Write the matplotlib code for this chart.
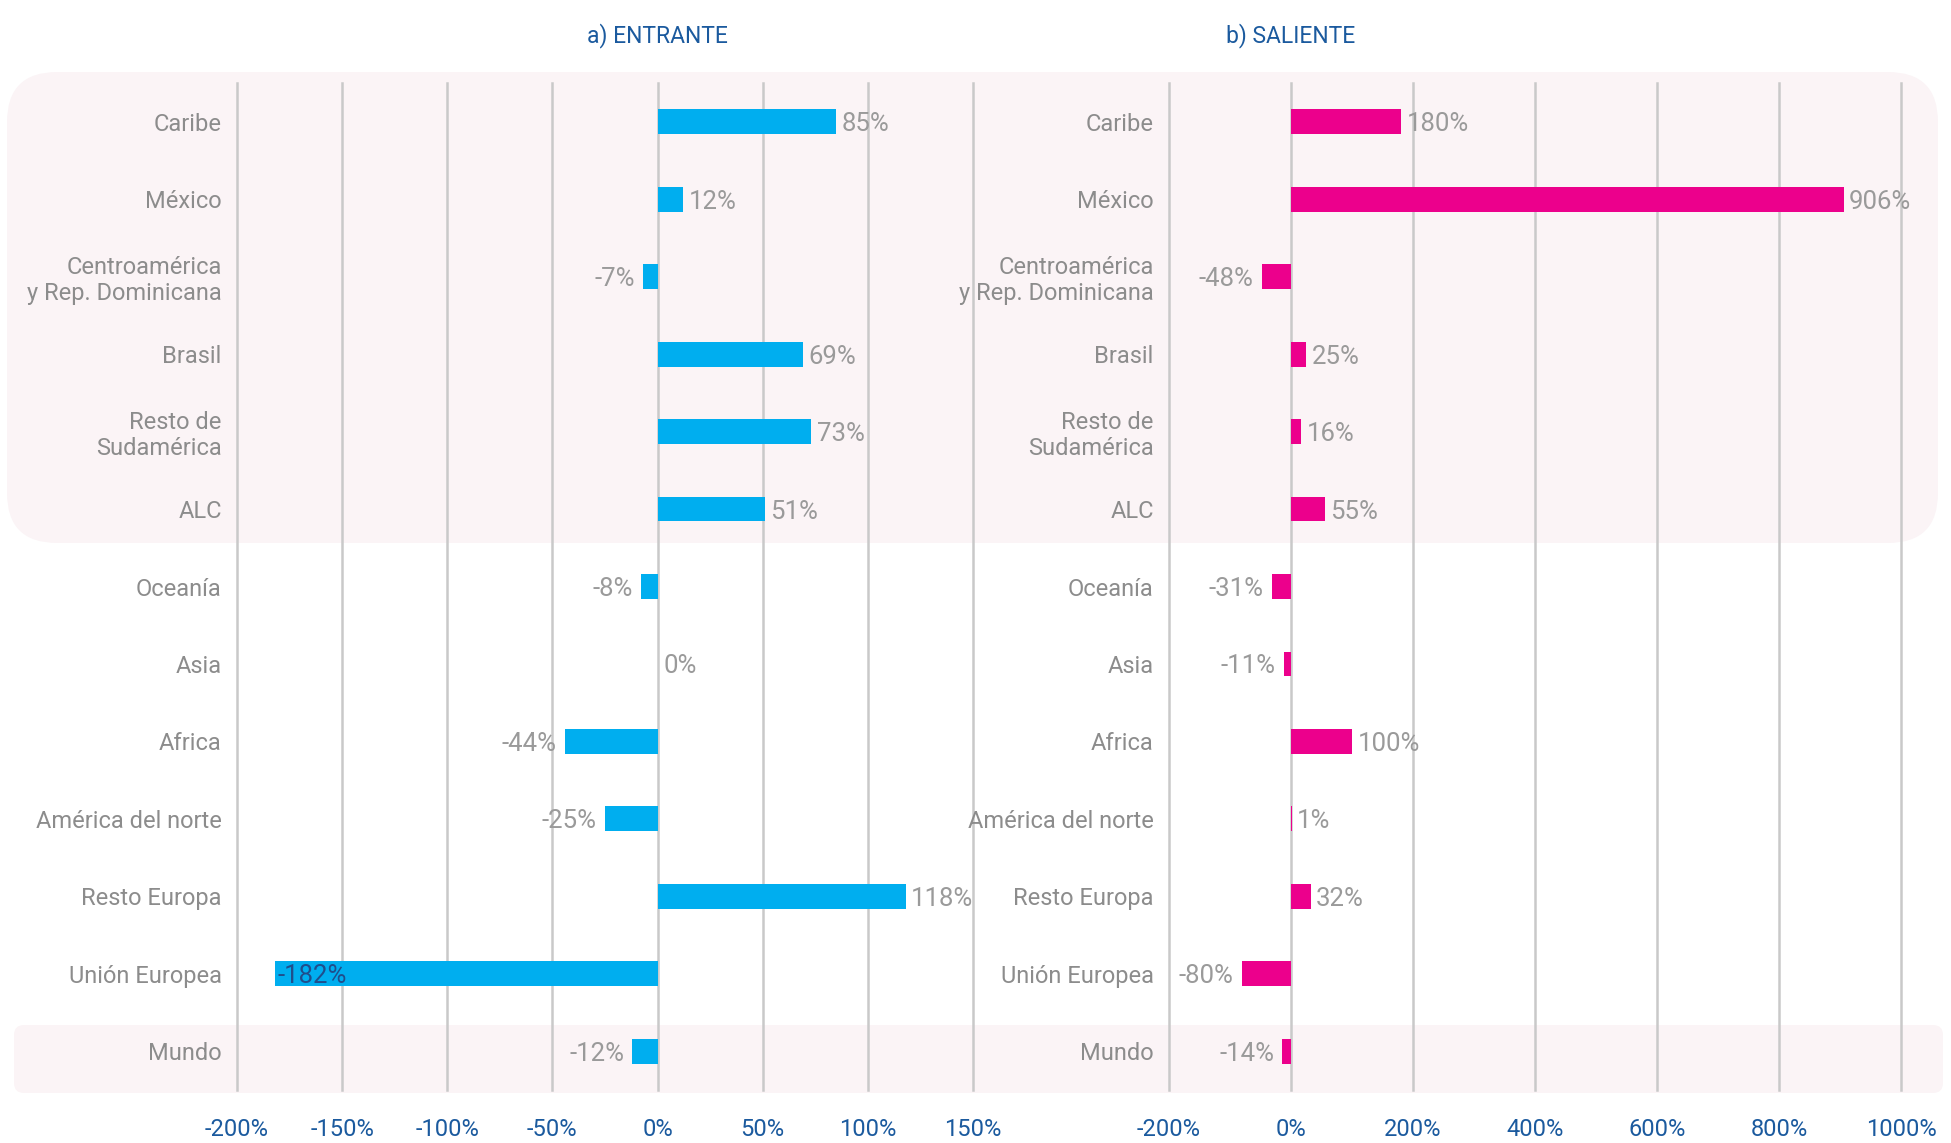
import matplotlib.pyplot as plt
import matplotlib.transforms as mtransforms
from matplotlib.patches import FancyBboxPatch
import numpy as np

# Data
categories = ['Caribe', 'México', 'Centroamérica\ny Rep. Dominicana', 'Brasil',
              'Resto de\nSudamérica', 'ALC', 'Oceanía', 'Asia', 'Africa',
              'América del norte', 'Resto Europa', 'Unión Europea', 'Mundo']
entrante = [85, 12, -7, 69, 73, 51, -8, 0, -44, -25, 118, -182, -12]
saliente = [180, 906, -48, 25, 16, 55, -31, -11, 100, 1, 32, -80, -14]
ticks_entrante = [-200, -150, -100, -50, 0, 50, 100, 150]
ticks_saliente = [-200, 0, 200, 400, 600, 800, 1000]

W, H = 1951, 1143
plt.rcParams['font.family'] = ['Roboto', 'DejaVu Sans']

grey_txt = '#8C8C8C'
lbl_txt = '#9A9A9A'
blue_txt = '#1B5A9E'
grid_col = '#C9C9C9'
box_col = '#FBF4F6'

fig = plt.figure(figsize=(W / 100, H / 100), dpi=100)

# background rounded bands (pixel coordinates)
ident = mtransforms.IdentityTransform()
top_box = FancyBboxPatch((7 + 50, H - 543 + 50), 1931 - 100, 471 - 100,
                         boxstyle='round,pad=50', transform=ident,
                         facecolor=box_col, edgecolor='none', zorder=-2)
mundo_box = FancyBboxPatch((14 + 10, H - 1093 + 10), 1929 - 20, 68 - 20,
                           boxstyle='round,pad=10', transform=ident,
                           facecolor=box_col, edgecolor='none', zorder=-2)
fig.patches.extend([top_box, mundo_box])

y = np.arange(len(categories))
bottom, height = 53 / H, 1007 / H
panels = [
    ([237 / W, bottom, 736 / W, height], entrante, ticks_entrante, (-200, 150), '#00AEEF', 'a) ENTRANTE'),
    ([1169 / W, bottom, 732 / W, height], saliente, ticks_saliente, (-200, 1000), '#EC008C', 'b) SALIENTE'),
]

for rect, vals, ticks, lims, color, title in panels:
    ax = fig.add_axes(rect)
    ax.set_facecolor('none')
    ax.set_xlim(*lims)
    ax.set_ylim(len(categories) - 0.5, -0.5)
    for t in ticks:
        ax.axvline(t, color=grid_col, lw=1.8, zorder=0, clip_on=False)
    ax.barh(y, vals, height=0.32, color=color, zorder=2)

    span = lims[1] - lims[0]
    for yi, v in zip(y, vals):
        if v - lims[0] < 0.1 * span:
            # label doesn't fit outside -> put it inside the bar
            ax.annotate(f'{v}%', (v, yi), xytext=(2, 0), textcoords='offset points',
                        ha='left', va='center_baseline', fontsize=18.5, color='#1F4E8C', zorder=3)
        elif v < 0:
            ax.annotate(f'{v}%', (v, yi), xytext=(-6, 0), textcoords='offset points',
                        ha='right', va='center_baseline', fontsize=18.5, color=lbl_txt, zorder=3)
        else:
            ax.annotate(f'{v}%', (v, yi), xytext=(4, 0), textcoords='offset points',
                        ha='left', va='center_baseline', fontsize=18.5, color=lbl_txt, zorder=3)

    ax.set_yticks(y)
    ax.set_yticklabels(categories, fontsize=17, color=grey_txt, linespacing=1.15)
    ax.set_xticks(ticks)
    ax.set_xticklabels([f'{t}%' for t in ticks], fontsize=17, color=blue_txt)
    ax.tick_params(axis='y', length=0, pad=11)
    ax.tick_params(axis='x', length=0, pad=20)
    for s in ax.spines.values():
        s.set_visible(False)

    ax.annotate(title, (0, 1 - 36 / H), xycoords=('data', 'figure fraction'),
                ha='center', va='center', fontsize=16.5, color=blue_txt)

fig.savefig('out.png', dpi=100)
